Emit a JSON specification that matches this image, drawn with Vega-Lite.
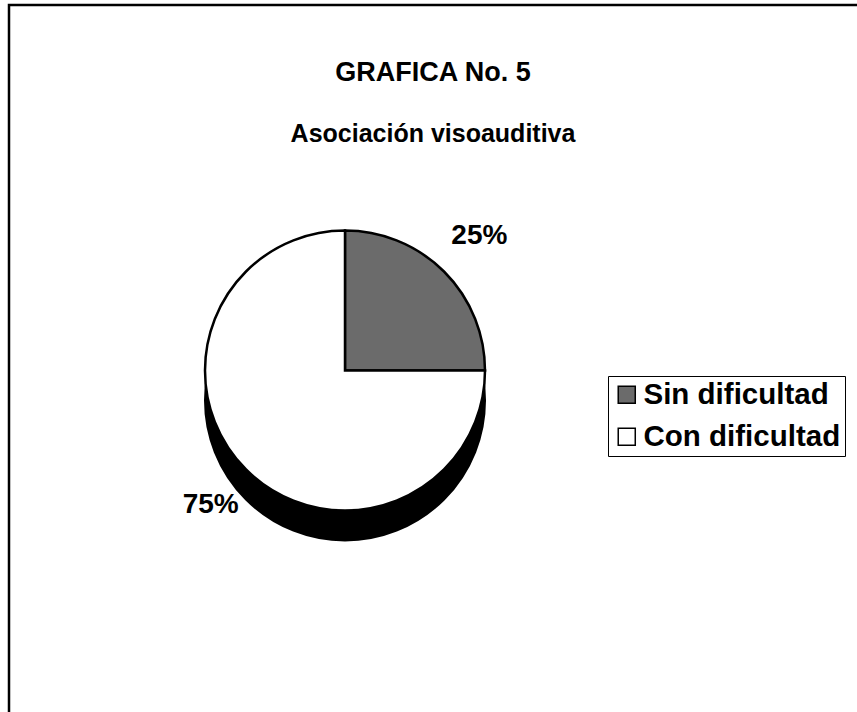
{
  "$schema": "https://vega.github.io/schema/vega-lite/v6.json",
  "autosize": "none",
  "width": 848,
  "height": 707,
  "padding": {"left": 9, "top": 5, "right": 0, "bottom": 0},
  "background": "white",
  "view": {"stroke": "black", "strokeWidth": 2.5, "strokeDash": [848, 1555, 707]},
  "config": {
    "view": {"stroke": "black", "strokeWidth": 2.5, "strokeDash": [848, 1555, 707]},
    "font": "Liberation Sans"
  },
  "title": {
    "text": "GRAFICA No. 5",
    "subtitle": "Asociación visoauditiva",
    "anchor": "middle",
    "frame": "group",
    "offset": -143,
    "font": "Liberation Sans",
    "fontSize": 27,
    "fontWeight": "bold",
    "color": "black",
    "subtitleFont": "Liberation Sans",
    "subtitleFontSize": 25,
    "subtitleFontWeight": "bold",
    "subtitleColor": "black",
    "subtitlePadding": 35
  },
  "data": {
    "values": [
      {"categoria": "Sin dificultad", "porcentaje": 25, "etiqueta": "25%", "orden": 1},
      {"categoria": "Con dificultad", "porcentaje": 75, "etiqueta": "75%", "orden": 2}
    ]
  },
  "encoding": {
    "theta": {"field": "porcentaje", "type": "quantitative", "stack": true},
    "order": {"field": "orden", "type": "quantitative"}
  },
  "layer": [
    {
      "mark": {"type": "arc", "radius": 140, "fill": "black", "stroke": "black", "strokeWidth": 2, "xOffset": -88, "yOffset": 42}
    },
    {
      "mark": {"type": "arc", "radius": 140, "stroke": "black", "strokeWidth": 2.5, "xOffset": -88, "yOffset": 12},
      "encoding": {
        "color": {
          "field": "categoria",
          "type": "nominal",
          "scale": {"domain": ["Sin dificultad", "Con dificultad"], "range": ["#6b6b6b", "#ffffff"]},
          "legend": {
            "orient": "none",
            "legendX": 599,
            "legendY": 371,
            "title": null,
            "symbolType": "square",
            "symbolSize": 290,
            "symbolStrokeColor": "black",
            "symbolStrokeWidth": 1.5,
            "symbolOpacity": 1,
            "labelFont": "Liberation Sans",
            "labelFontSize": 29.5,
            "labelFontWeight": "bold",
            "labelColor": "black",
            "labelLimit": 400,
            "labelOffset": 2,
            "strokeColor": "black",
            "fillColor": "white",
            "padding": 4,
            "rowPadding": 11
          }
        }
      }
    },
    {
      "mark": {"type": "text", "radius": 190, "font": "Liberation Sans", "fontSize": 28, "fontWeight": "bold", "color": "black", "xOffset": -88, "yOffset": 12},
      "encoding": {"text": {"field": "etiqueta", "type": "nominal"}}
    }
  ]
}
